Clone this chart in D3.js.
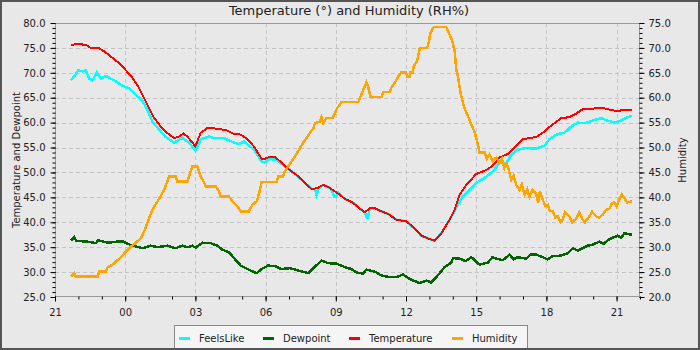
<!DOCTYPE html>
<html>
<head>
<meta charset="utf-8">
<script src="https://cdn.jsdelivr.net/npm/d3@7"></script>
<style>
  html, body { margin: 0; padding: 0; background: #e8e8e8; }
  svg { display: block; font-family: "DejaVu Sans", sans-serif; }
</style>
</head>
<body>
<svg id="chart" width="700" height="350"></svg>
<script>
// Hours are counted from 21:00 on the first evening.
const seriesNames = ["FeelsLike", "Dewpoint", "Temperature", "Humidity"];
const seriesColors = ["#00ffff", "#006400", "#ff0000", "#ffa500"];
const xTickHours = [0, 3, 6, 9, 12, 15, 18, 21, 24];
const xTickLabels = ["21", "00", "03", "06", "09", "12", "15", "18", "21"];
const leftTicks = [25, 30, 35, 40, 45, 50, 55, 60, 65, 70, 75, 80];
const rightTicks = [20, 25, 30, 35, 40, 45, 50, 55, 60, 65, 70, 75];

const tempHours = [0.68,0.97,1.32,1.53,1.89,2.10,2.46,2.82,3.01,3.31,3.60,3.81,4.02,4.24,4.52,4.80,5.09,5.30,5.49,5.66,5.87,6.00,6.11,6.23,6.51,6.94,7.36,7.65,7.94,8.22,8.50,8.83,8.95,9.19,9.40,9.68,9.97,10.32,10.68,10.96,11.18,11.46,11.67,12.03,12.39,12.74,13.03,13.24,13.45,13.67,13.95,14.23,14.59,15.02,15.35,15.66,16.08,16.22,16.51,16.86,17.08,17.29,17.58,18.00,18.43,18.71,19.00,19.35,19.71,19.99,20.28,20.56,20.85,21.20,21.63,21.98,22.27,22.55,22.98,23.40,23.69,24.04,24.33,24.66];
const tempValues = [75.6,75.8,75.6,75.0,74.9,74.3,73.0,71.6,70.6,69.0,66.9,64.9,62.9,60.9,59.2,57.9,56.9,57.2,57.8,57.2,56.0,55.2,56.6,58.0,58.9,58.8,58.4,57.7,57.6,56.7,55.2,52.7,52.7,53.2,53.1,52.0,50.7,49.5,47.9,46.7,46.8,47.5,47.1,46.0,44.7,43.9,42.7,42.0,42.8,42.8,42.2,41.7,40.5,40.2,38.8,37.3,36.5,36.3,37.8,40.5,42.5,45.5,47.5,49.7,50.5,51.4,53.0,53.7,55.4,56.7,56.9,57.1,58.0,59.4,60.9,61.1,61.8,62.7,62.8,63.0,62.6,62.3,62.6,62.6];

const feelsHours = [0.68,0.82,0.99,1.17,1.32,1.46,1.60,1.79,1.96,2.18,2.39,2.60,2.89,3.17,3.46,3.74,3.95,4.16,4.45,4.73,5.09,5.44,5.73,6.00,6.23,6.58,6.80,7.22,7.65,7.86,8.08,8.50,8.83,8.95,9.19,9.47,9.75,9.97,10.32,10.68,10.96,11.10,11.18,11.26,11.46,11.67,11.80,11.92,12.03,12.10,12.39,12.74,13.03,13.24,13.31,13.38,13.45,13.67,13.95,14.23,14.59,15.02,15.35,15.66,16.08,16.22,16.51,16.86,17.08,17.15,17.43,17.72,18.00,18.36,18.71,19.00,19.28,19.50,19.78,20.14,20.56,20.92,21.13,21.42,21.77,22.06,22.34,22.63,22.98,23.33,23.62,23.90,24.19,24.48,24.66];
const feelsValues = [68.5,69.3,70.5,70.3,70.5,68.8,68.5,70.1,68.8,69.4,68.8,68.3,67.4,66.9,65.6,64.3,62.6,60.2,58.6,57.1,56.0,56.9,56.0,54.4,56.7,57.2,56.9,56.9,56.0,55.7,56.2,54.6,52.2,52.0,52.7,52.5,51.5,50.7,49.5,47.9,46.7,46.7,45.5,46.7,47.5,47.1,46.7,45.2,45.2,46.0,44.7,43.9,42.7,42.0,41.0,41.0,42.8,42.8,42.2,41.7,40.5,40.2,38.8,37.3,36.5,36.3,37.8,40.5,42.3,43.0,45.2,46.5,47.9,48.9,50.2,51.9,51.9,53.5,54.6,54.9,54.8,55.4,56.7,57.6,58.0,59.2,60.0,59.9,60.4,60.9,60.4,60.0,60.4,61.1,61.4];

const dewHours = [0.68,0.82,0.90,1.39,1.75,1.85,2.07,2.28,2.64,2.92,3.10,3.31,3.74,4.09,4.38,4.80,5.16,5.44,5.66,5.87,6.01,6.30,6.65,6.94,7.15,7.43,7.65,7.94,8.15,8.36,8.62,8.83,9.10,9.40,9.68,10.04,10.40,10.82,11.04,11.39,11.67,12.03,12.39,12.67,12.89,13.17,13.31,13.67,13.95,14.31,14.59,14.87,15.16,15.58,15.87,16.08,16.37,16.65,16.93,17.01,17.29,17.55,17.79,18.14,18.50,18.70,18.86,19.14,19.43,19.60,19.78,20.14,20.35,20.56,20.85,21.05,21.27,21.63,21.91,22.13,22.35,22.55,22.75,22.98,23.26,23.45,23.69,24.04,24.20,24.33,24.66];
const dewValues = [36.3,37.0,36.3,36.1,35.8,36.4,36.1,35.9,36.1,36.1,35.7,35.3,34.8,35.3,35.0,35.3,34.8,35.3,35.0,35.3,34.9,35.9,35.8,35.3,34.5,34.0,32.8,31.3,30.8,30.3,29.8,30.6,31.3,31.2,30.6,30.8,30.3,29.8,30.8,32.3,31.8,31.7,31.0,30.6,29.9,29.7,30.5,30.1,29.3,29.0,29.0,29.5,28.6,27.8,28.3,27.9,29.4,31.0,31.9,32.8,32.7,32.2,33.0,31.5,31.9,33.0,32.7,32.4,33.5,32.6,33.0,32.7,33.6,33.5,33.0,32.5,33.2,33.3,33.8,34.8,34.3,34.8,35.3,35.5,36.1,35.7,36.6,37.3,36.9,37.8,37.5];

const humHours = [0.68,0.82,0.89,1.82,1.89,2.18,2.25,2.46,2.60,2.82,3.03,3.24,3.46,3.67,3.84,4.02,4.16,4.38,4.52,4.66,4.88,5.16,5.23,5.66,5.77,5.87,6.08,6.23,6.37,6.44,6.87,7.01,7.08,7.43,7.58,7.79,7.94,8.29,8.43,8.62,8.73,8.83,9.47,9.54,9.75,9.82,9.97,10.11,10.25,10.47,10.61,10.75,10.89,11.04,11.11,11.32,11.39,11.46,11.60,11.85,11.96,12.06,12.24,12.96,13.03,13.17,13.31,13.38,13.49,13.95,14.02,14.30,14.37,14.52,14.66,14.80,14.99,15.06,15.15,15.19,15.28,15.33,15.47,15.59,15.90,15.97,16.04,16.19,16.72,16.86,16.97,17.08,17.15,17.22,17.32,17.40,17.50,17.65,17.79,17.93,18.07,18.14,18.36,18.45,18.57,18.70,18.86,19.00,19.10,19.20,19.28,19.35,19.50,19.60,19.71,19.85,19.95,20.07,20.18,20.28,20.40,20.56,20.65,20.72,20.85,20.95,21.06,21.15,21.27,21.38,21.49,21.60,21.70,21.80,21.98,22.10,22.27,22.40,22.55,22.65,22.84,22.95,23.12,23.25,23.40,23.55,23.69,23.80,23.90,24.00,24.11,24.22,24.33,24.45,24.66];
const humValues = [24.1,24.8,24.1,24.1,25.1,25.1,26.0,26.5,27.1,28.0,29.1,30.1,30.9,31.8,33.5,35.8,37.5,39.2,40.3,41.5,44.2,44.2,43.2,43.2,44.9,46.2,46.2,44.2,43.0,42.2,42.2,41.2,40.2,40.2,39.2,38.2,37.2,37.2,38.5,39.2,40.9,43.1,43.1,44.2,44.2,45.2,46.2,47.2,48.2,49.9,51.0,51.9,52.9,53.9,54.9,55.2,56.1,54.9,55.9,55.9,56.9,57.9,59.1,59.1,59.9,61.6,63.1,62.2,60.1,60.1,61.1,61.1,62.0,63.0,64.2,65.1,65.1,64.2,64.2,65.1,65.1,66.3,67.3,70.0,70.0,71.0,73.0,74.2,74.2,72.7,71.5,69.3,65.6,64.3,61.3,59.6,57.9,56.3,54.6,53.2,50.6,49.0,49.0,47.8,48.6,47.3,48.0,46.9,47.8,45.9,46.8,46.2,43.5,44.4,42.5,41.5,42.6,40.5,41.6,40.1,41.5,40.7,39.0,41.2,39.5,38.3,38.5,37.3,37.2,36.0,36.2,35.0,35.5,37.0,36.2,35.0,35.7,37.0,35.5,35.0,36.2,37.1,36.2,35.9,36.5,37.5,37.7,38.8,39.0,38.2,39.5,40.6,39.9,39.0,39.2];

const width = 700, height = 350;
const margin = { left: 55, right: 60, top: 23, bottom: 53 };
const plotW = width - margin.left - margin.right; // 585
const plotH = height - margin.top - margin.bottom; // 274

const base = new Date(2024, 0, 1, 21, 0, 0);
const toDate = h => new Date(base.getTime() + h * 3600e3);

const x = d3.scaleTime().domain([toDate(0), toDate(25)]).range([margin.left, margin.left + plotW]);
const yL = d3.scaleLinear().domain([25, 80]).range([margin.top + plotH, margin.top]);
const yR = d3.scaleLinear().domain([20, 75]).range([margin.top + plotH, margin.top]);

const svg = d3.select("#chart");

// background
svg.append("rect").attr("x", 0).attr("y", 0).attr("width", width).attr("height", height).attr("fill", "#e8e8e8");

// grid
const grid = svg.append("g").attr("stroke", "#c4c4c4").attr("stroke-dasharray", "4,3").attr("stroke-width", 1);
grid.selectAll("line.h").data(leftTicks.filter(v => v > 25 && v < 80)).join("line")
  .attr("x1", margin.left).attr("x2", margin.left + plotW)
  .attr("y1", d => Math.round(yL(d)) + 0.5).attr("y2", d => Math.round(yL(d)) + 0.5);
grid.selectAll("line.v").data(xTickHours.slice(1)).join("line")
  .attr("y1", margin.top).attr("y2", margin.top + plotH)
  .attr("x1", d => Math.round(x(toDate(d))) + 0.5).attr("x2", d => Math.round(x(toDate(d))) + 0.5);

// series lines (aliased, like the logger's raster plot)
const pairs = (hs, vs) => hs.map((h, i) => [toDate(h), vs[i]]);
const lineL = d3.line().x(d => x(d[0])).y(d => yL(d[1]));
const lineR = d3.line().x(d => x(d[0])).y(d => yR(d[1]));
const plot = svg.append("g").attr("shape-rendering", "crispEdges");
plot.append("path").datum(pairs(feelsHours, feelsValues)).attr("d", lineL)
  .attr("fill", "none").attr("stroke", seriesColors[0]).attr("stroke-width", 2.5);
plot.append("path").datum(pairs(dewHours, dewValues)).attr("d", lineL)
  .attr("fill", "none").attr("stroke", seriesColors[1]).attr("stroke-width", 2.5);
plot.append("path").datum(pairs(tempHours, tempValues)).attr("d", lineL)
  .attr("fill", "none").attr("stroke", seriesColors[2]).attr("stroke-width", 2);
plot.append("path").datum(pairs(humHours, humValues)).attr("d", lineR)
  .attr("fill", "none").attr("stroke", seriesColors[3]).attr("stroke-width", 2.5);

// plot frame
svg.append("rect").attr("x", margin.left + 0.5).attr("y", margin.top + 0.5)
  .attr("width", plotW - 1).attr("height", plotH - 1)
  .attr("fill", "none").attr("stroke", "#999").attr("stroke-width", 1);

// axes
function styleAxis(g) {
  g.select(".domain").remove();
  g.selectAll(".tick line").attr("stroke", "#000");
  g.selectAll("text").attr("fill", "#222").attr("font-size", 10).attr("font-family", "DejaVu Sans, sans-serif");
}
const minorL = d3.range(25, 81, 1);
svg.append("g").attr("transform", `translate(${margin.left + 0.5},0)`)
  .call(d3.axisLeft(yL).tickValues(minorL).tickSize(3).tickFormat("")).call(styleAxis);
svg.append("g").attr("transform", `translate(${margin.left + 0.5},0)`)
  .call(d3.axisLeft(yL).tickValues(leftTicks).tickSize(5).tickPadding(5).tickFormat(d3.format(".1f"))).call(styleAxis);

const minorR = d3.range(20, 76, 1);
svg.append("g").attr("transform", `translate(${margin.left + plotW - 0.5},0)`)
  .call(d3.axisRight(yR).tickValues(minorR).tickSize(3).tickFormat("")).call(styleAxis);
svg.append("g").attr("transform", `translate(${margin.left + plotW - 0.5},0)`)
  .call(d3.axisRight(yR).tickValues(rightTicks).tickSize(5).tickPadding(4).tickFormat(d3.format(".1f"))).call(styleAxis);

svg.append("g").attr("transform", `translate(0,${margin.top + plotH - 0.5})`)
  .call(d3.axisBottom(x).tickValues(d3.range(0, 26, 1).map(toDate)).tickSize(3).tickFormat("")).call(styleAxis);
svg.append("g").attr("transform", `translate(0,${margin.top + plotH - 0.5})`)
  .call(d3.axisBottom(x).tickValues(xTickHours.map(toDate)).tickSize(5).tickPadding(7)
    .tickFormat((d, i) => xTickLabels[i])).call(styleAxis);

// titles
svg.append("text").attr("x", 349).attr("y", 15).attr("text-anchor", "middle")
  .attr("font-size", 13).attr("fill", "#222").text("Temperature (°) and Humidity (RH%)");
svg.append("text").attr("transform", `translate(20,${margin.top + plotH / 2}) rotate(-90)`)
  .attr("text-anchor", "middle").attr("font-size", 10).attr("fill", "#222").text("Temperature and Dewpoint");
svg.append("text").attr("transform", `translate(686,${margin.top + plotH / 2}) rotate(-90)`)
  .attr("text-anchor", "middle").attr("font-size", 10).attr("fill", "#222").text("Humidity");

// legend
const legend = svg.append("g");
legend.append("rect").attr("x", 174.5).attr("y", 325.5).attr("width", 353).attr("height", 30)
  .attr("fill", "#f5f5f5").attr("stroke", "#888");
const legendX = [179, 263, 349, 452];
seriesNames.forEach((name, i) => {
  legend.append("rect").attr("x", legendX[i]).attr("y", 337).attr("width", 11).attr("height", 3)
    .attr("fill", seriesColors[i]);
  legend.append("text").attr("x", legendX[i] + 20).attr("y", 342).attr("font-size", 10)
    .attr("fill", "#222").text(name);
});

// outer border
svg.append("rect").attr("x", 1).attr("y", 1).attr("width", width - 2).attr("height", height - 2)
  .attr("fill", "none").attr("stroke", "#555").attr("stroke-width", 2);
</script>
</body>
</html>
